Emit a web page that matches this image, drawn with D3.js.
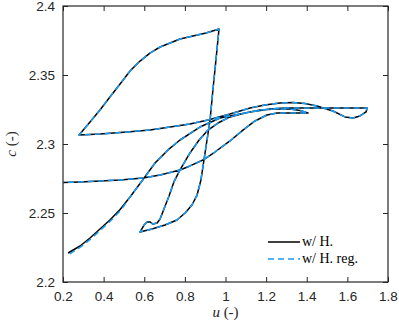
<!DOCTYPE html>
<html>
<head>
    <title></title>
    <style>
        body { margin: 0; background: #fff; }
    </style>
</head>
<body>
<script src="https://d3js.org/d3.v7.min.js"></script>
<script type="text/javascript">

    // axis ticks
    var xTicks = [0.2, 0.4, 0.6, 0.8, 1, 1.2, 1.4, 1.6, 1.8];
    var yTicks = [2.2, 2.25, 2.3, 2.35, 2.4];

    // w/ H. (black, solid)
    var uH = [0.225, 0.284, 0.333, 0.382, 0.431, 0.481, 0.530, 0.594, 0.653, 0.717, 0.776, 0.874, 0.973, 1.121, 1.219, 1.293, 1.514, 1.697,
              1.692, 1.662, 1.628, 1.588, 1.529, 1.450, 1.391, 1.332, 1.268, 1.194, 1.121, 1.022, 0.914, 0.825, 0.727, 0.628, 0.515, 0.382, 0.279,
              0.333, 0.382, 0.431, 0.481, 0.530, 0.579, 0.628, 0.678, 0.727, 0.776, 0.840, 0.904, 0.968,
              0.953, 0.938, 0.924, 0.909, 0.894, 0.879, 0.860, 0.835, 0.801, 0.761, 0.702, 0.638, 0.579,
              0.599, 0.614, 0.628, 0.643, 0.663, 0.678, 0.697, 0.722, 0.746, 0.776, 0.825, 0.870, 0.914, 0.963, 1.022, 1.096, 1.170, 1.244, 1.318, 1.367, 1.406,
              1.318, 1.254, 1.204, 1.145, 1.086, 1.022, 0.948, 0.889, 0.825, 0.776, 0.678, 0.594, 0.481, 0.382, 0.284, 0.200];
    var cH = [2.2210, 2.2261, 2.2319, 2.2384, 2.2449, 2.2525, 2.2616, 2.2743, 2.2862, 2.2957, 2.3029, 2.3123, 2.3188, 2.3232, 2.3254, 2.3261, 2.3261, 2.3261,
              2.3232, 2.3203, 2.3188, 2.3196, 2.3239, 2.3275, 2.3293, 2.3301, 2.3297, 2.3283, 2.3261, 2.3217, 2.3174, 2.3145, 2.3123, 2.3101, 2.3087, 2.3072, 2.3065,
              2.3159, 2.3246, 2.3341, 2.3435, 2.3529, 2.3601, 2.3659, 2.3703, 2.3732, 2.3761, 2.3783, 2.3804, 2.3833,
              2.3609, 2.3391, 2.3174, 2.3029, 2.2884, 2.2739, 2.2630, 2.2558, 2.2500, 2.2449, 2.2413, 2.2384, 2.2362,
              2.2413, 2.2435, 2.2435, 2.2420, 2.2428, 2.2457, 2.2529, 2.2623, 2.2725, 2.2812, 2.2935, 2.3029, 2.3101, 2.3152, 2.3196, 2.3225, 2.3246, 2.3254, 2.3254, 2.3243, 2.3225,
              2.3225, 2.3225, 2.3210, 2.3167, 2.3101, 2.3022, 2.2942, 2.2884, 2.2841, 2.2812, 2.2775, 2.2754, 2.2739, 2.2732, 2.2725, 2.2721];

    // w/ H. reg. (blue, dashed): differs from w/ H. only at the start
    var uRegStart = [0.233, 0.289, 0.338, 0.387, 0.436, 0.486];
    var cRegStart = [2.2204, 2.2256, 2.2314, 2.2379, 2.2446, 2.2522];

    var seriesNames = ['w/ H.', 'w/ H. reg.'];

    var width = 399, height = 328;
    var plotLeft = 63, plotRight = 388, plotTop = 6, plotBottom = 282;

    var x = d3.scaleLinear().domain([0.2, 1.8]).range([plotLeft, plotRight]);
    var y = d3.scaleLinear().domain([2.2, 2.4]).range([plotBottom, plotTop]);

    var svg = d3.select('body')
                .append('svg')
                    .attr('width', width)
                    .attr('height', height)
                    .style('font-family', '"Liberation Sans", Arial, sans-serif');

    svg.append('clipPath')
        .attr('id', 'plot')
        .append('rect')
            .attr('x', plotLeft).attr('y', plotTop)
            .attr('width', plotRight - plotLeft).attr('height', plotBottom - plotTop);

    var ptsH = uH.map(function(u, i) { return [u, cH[i]]; });
    var ptsReg = uRegStart.map(function(u, i) { return [u, cRegStart[i]]; })
                    .concat(ptsH.slice(uRegStart.length));

    var line = d3.line()
                .x(function(d) { return x(d[0]); })
                .y(function(d) { return y(d[1]); });

    var g = svg.append('g').attr('clip-path', 'url(#plot)');

    g.append('path')
        .attr('d', line(ptsH))
        .attr('fill', 'none')
        .attr('stroke', '#000')
        .attr('stroke-width', 1.5)
        .attr('stroke-linejoin', 'round');

    g.append('path')
        .attr('d', line(ptsReg))
        .attr('fill', 'none')
        .attr('stroke', '#1a9cf2')
        .attr('stroke-width', 1.5)
        .attr('stroke-dasharray', '6,4')
        .attr('stroke-linejoin', 'round');

    // axes, ticks inward
    var fmt = function(d) { return String(d); };

    var xAxis = svg.append('g')
        .attr('transform', 'translate(0,' + plotBottom + ')')
        .call(d3.axisBottom(x).tickValues(xTicks).tickFormat(fmt).tickSizeInner(-5).tickSizeOuter(0).tickPadding(9));
    var yAxis = svg.append('g')
        .attr('transform', 'translate(' + plotLeft + ',0)')
        .call(d3.axisLeft(y).tickValues(yTicks).tickFormat(fmt).tickSizeInner(-5).tickSizeOuter(0).tickPadding(8));
    var xTop = svg.append('g')
        .attr('transform', 'translate(0,' + plotTop + ')')
        .call(d3.axisTop(x).tickValues(xTicks).tickFormat('').tickSizeInner(-5).tickSizeOuter(0));
    var yRight = svg.append('g')
        .attr('transform', 'translate(' + plotRight + ',0)')
        .call(d3.axisRight(y).tickValues(yTicks).tickFormat('').tickSizeInner(-5).tickSizeOuter(0));

    [xAxis, yAxis, xTop, yRight].forEach(function(a) {
        a.select('.domain').remove();
        a.selectAll('line').attr('stroke', '#262626');
        a.selectAll('text')
            .attr('fill', '#262626')
            .style('font-size', '13.5px')
            .style('font-family', '"Liberation Sans", Arial, sans-serif');
    });

    svg.append('rect')
        .attr('x', plotLeft).attr('y', plotTop)
        .attr('width', plotRight - plotLeft).attr('height', plotBottom - plotTop)
        .attr('fill', 'none')
        .attr('stroke', '#262626')
        .attr('stroke-width', 1.2);

    // axis labels
    var xl = svg.append('text')
        .attr('x', (plotLeft + plotRight) / 2)
        .attr('y', 317)
        .attr('text-anchor', 'middle')
        .style('font-family', '"Liberation Serif", "DejaVu Serif", serif')
        .style('font-size', '15px')
        .attr('fill', '#262626');
    xl.append('tspan').style('font-style', 'italic').text('u');
    xl.append('tspan').text(' (-)');

    var yl = svg.append('text')
        .attr('transform', 'translate(16,' + ((plotTop + plotBottom) / 2) + ') rotate(-90)')
        .attr('text-anchor', 'middle')
        .style('font-family', '"Liberation Serif", "DejaVu Serif", serif')
        .style('font-size', '15px')
        .attr('fill', '#262626');
    yl.append('tspan').style('font-style', 'italic').text('c');
    yl.append('tspan').text(' (-)');

    // legend
    var legend = svg.append('g');
    var legendY = [242, 259];
    legend.selectAll('line')
        .data(seriesNames)
        .enter()
        .append('line')
            .attr('x1', 268).attr('x2', 300)
            .attr('y1', function(d, i) { return legendY[i]; })
            .attr('y2', function(d, i) { return legendY[i]; })
            .attr('stroke', function(d, i) { return i === 0 ? '#000' : '#1a9cf2'; })
            .attr('stroke-width', 1.5)
            .attr('stroke-dasharray', function(d, i) { return i === 0 ? null : '6,4'; });
    legend.selectAll('text')
        .data(seriesNames)
        .enter()
        .append('text')
            .attr('x', 302)
            .attr('y', function(d, i) { return legendY[i] + 4; })
            .style('font-family', '"Liberation Serif", "DejaVu Serif", serif')
            .style('font-size', '14px')
            .attr('fill', '#000')
            .text(function(d) { return d; });

</script>
</body>
</html>
